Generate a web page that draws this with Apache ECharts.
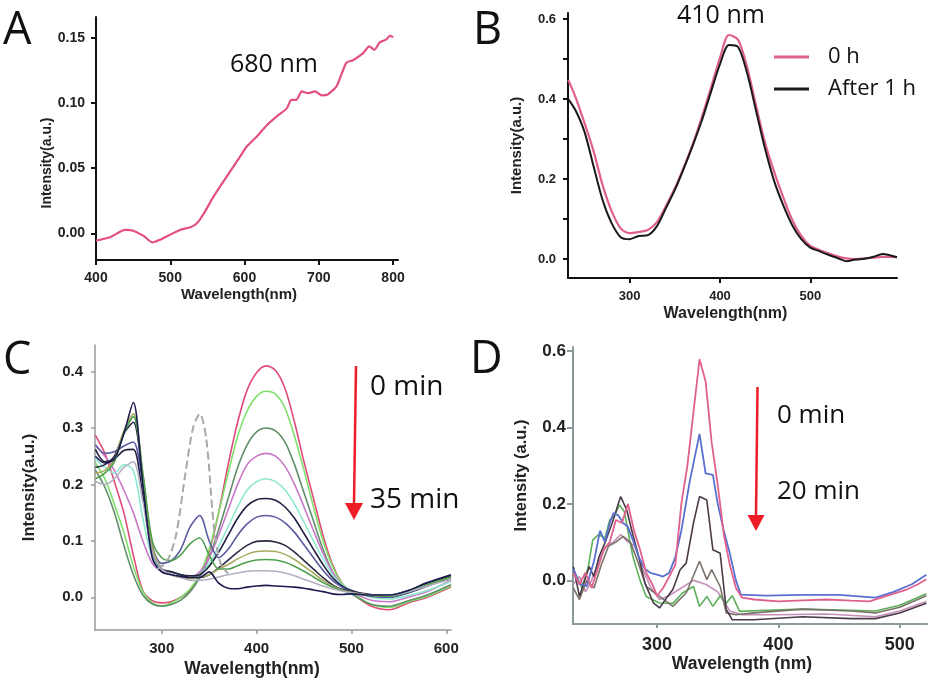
<!DOCTYPE html>
<html>
<head>
<meta charset="utf-8">
<title>Absorption spectra</title>
<script src="https://cdn.jsdelivr.net/npm/echarts@6.0.0/dist/echarts.min.js"></script>
<style>
html, body { margin: 0; padding: 0; background: #fff; }
#chart { width: 934px; height: 686px; }
</style>
</head>
<body>
<div id="chart"></div>
<script>
// panel A
var aWl = [400,419,439,450,464,476,486,500,513,527,536,545,558,576,594,603,616,630,643,657,663,670,677,686,695,704,712,724,737,746,759,768,775,782,791,796,800];
var aAbs = [-0.0056,-0.003,0.0026,0.002,-0.002,-0.007,-0.005,-0.001,0.0026,0.0046,0.0077,0.015,0.028,0.0436,0.059,0.0667,0.074,0.083,0.0897,0.096,0.1026,0.1026,0.109,0.1077,0.109,0.106,0.1067,0.113,0.131,0.133,0.138,0.1436,0.141,0.1467,0.149,0.152,0.1505];
var aXTicks = [400,500,600,700,800];
var aYTicks = [0,0.05,0.10,0.15];

// panel B
var bWl = [232,240,250,260,270,280,290,300,310,320,330,340,350,360,370,380,390,400,410,420,430,440,450,460,470,480,490,500,510,520,530,540,550,560,570,580,588,596];
var b0h = [0.448,0.405,0.340,0.270,0.185,0.120,0.077,0.065,0.068,0.073,0.092,0.132,0.177,0.230,0.288,0.355,0.428,0.503,0.560,0.548,0.480,0.383,0.290,0.218,0.155,0.098,0.058,0.033,0.023,0.015,0.007,0.002,0.000,0.002,0.004,0.006,0.006,0.005];
var b1h = [0.400,0.372,0.318,0.232,0.148,0.090,0.055,0.050,0.058,0.060,0.082,0.127,0.173,0.227,0.285,0.347,0.418,0.487,0.535,0.530,0.465,0.370,0.275,0.195,0.135,0.085,0.050,0.029,0.020,0.011,0.003,-0.005,-0.001,0.001,0.006,0.013,0.010,0.005];
var bXTicks = [300,400,500];
var bYTicks = [0,0.2,0.4,0.6];
var bYTickMarks = [0,0.1,0.2,0.3,0.4,0.5,0.6];

// panel C, one trace per time point
var cWl = [230,240,250,260,270,280,290,300,310,320,330,340,350,360,370,380,390,400,410,420,430,440,450,460,470,480,490,500,520,540,560,580,605];
var cTrace1 = [0.287,0.255,0.205,0.150,0.075,0.012,-0.006,-0.010,-0.008,0.000,0.012,0.036,0.080,0.150,0.235,0.310,0.367,0.398,0.410,0.402,0.370,0.310,0.240,0.175,0.110,0.058,0.025,0.008,-0.015,-0.022,-0.010,0.000,0.018];
var cTrace2 = [0.238,0.210,0.165,0.115,0.055,0.010,-0.010,-0.015,-0.010,0.000,0.015,0.040,0.085,0.150,0.220,0.285,0.330,0.356,0.365,0.360,0.335,0.285,0.225,0.160,0.100,0.055,0.025,0.010,-0.012,-0.018,-0.008,0.002,0.020];
var cTrace3 = [0.225,0.195,0.150,0.092,0.040,0.004,-0.012,-0.016,-0.013,-0.005,0.010,0.035,0.070,0.120,0.175,0.230,0.270,0.293,0.300,0.295,0.275,0.235,0.185,0.135,0.085,0.045,0.020,0.006,-0.012,-0.016,-0.006,0.004,0.022];
var cTrace4 = [0.270,0.250,0.225,0.190,0.150,0.100,0.060,0.045,0.040,0.035,0.035,0.045,0.070,0.110,0.155,0.200,0.235,0.250,0.255,0.250,0.232,0.200,0.160,0.118,0.078,0.045,0.022,0.010,-0.005,-0.008,0.000,0.010,0.030];
var cTrace5 = [0.245,0.230,0.220,0.235,0.225,0.140,0.070,0.050,0.045,0.040,0.035,0.040,0.060,0.090,0.125,0.160,0.190,0.205,0.210,0.205,0.190,0.165,0.133,0.100,0.068,0.040,0.022,0.012,0.000,-0.003,0.003,0.012,0.028];
var cTrace6 = [0.262,0.240,0.245,0.260,0.262,0.180,0.080,0.050,0.045,0.040,0.038,0.040,0.055,0.080,0.110,0.140,0.162,0.173,0.175,0.172,0.160,0.140,0.113,0.085,0.058,0.035,0.020,0.012,0.003,0.000,0.008,0.020,0.035];
var cTrace7 = [0.270,0.255,0.258,0.268,0.275,0.200,0.090,0.060,0.065,0.085,0.125,0.145,0.100,0.070,0.085,0.110,0.130,0.142,0.145,0.142,0.132,0.115,0.093,0.070,0.048,0.030,0.018,0.010,0.002,0.000,0.008,0.020,0.035];
var cTrace8 = [0.230,0.235,0.250,0.290,0.310,0.210,0.090,0.050,0.045,0.040,0.035,0.035,0.040,0.052,0.066,0.080,0.092,0.099,0.100,0.098,0.092,0.080,0.065,0.050,0.035,0.022,0.014,0.010,0.005,0.003,0.012,0.025,0.038];
var cTrace9 = [0.220,0.225,0.245,0.295,0.325,0.220,0.090,0.050,0.040,0.035,0.033,0.035,0.040,0.050,0.058,0.068,0.076,0.081,0.082,0.081,0.076,0.067,0.055,0.043,0.030,0.020,0.013,0.009,0.004,0.002,0.010,0.022,0.035];
var cTrace10 = [0.210,0.220,0.240,0.290,0.320,0.220,0.100,0.070,0.065,0.075,0.095,0.105,0.075,0.050,0.050,0.056,0.062,0.066,0.067,0.066,0.062,0.055,0.046,0.036,0.026,0.018,0.012,0.008,0.003,0.002,0.010,0.022,0.036];
var cTrace11 = [0.205,0.200,0.210,0.230,0.240,0.170,0.080,0.050,0.040,0.035,0.030,0.030,0.032,0.036,0.040,0.043,0.046,0.047,0.047,0.046,0.043,0.038,0.032,0.026,0.020,0.015,0.011,0.008,0.004,0.004,0.010,0.020,0.032];
var cTrace12 = [0.250,0.238,0.245,0.290,0.345,0.200,0.070,0.045,0.040,0.037,0.035,0.035,0.045,0.025,0.016,0.015,0.018,0.020,0.021,0.020,0.019,0.018,0.016,0.013,0.010,0.006,0.005,0.006,0.004,0.004,0.012,0.026,0.040];
var cDashWl = [295,305,315,325,333,340,347,355,362,370];
var cDash = [0.050,0.062,0.110,0.220,0.300,0.325,0.280,0.125,0.060,0.042];
var cXTicks = [300,400,500,600];
var cYTicks = [0,0.1,0.2,0.3,0.4];

// panel D
var dWlPink = [231,236,241,246,251,256,261,266,271,276,281,286,291,296,300,305,310,315,320,325,330,335,340,345,350,355,360,365,370,380,400,420,440,460,475,490,505,515,522];
var dPink = [0.020,-0.010,0.020,-0.020,0.030,0.080,0.100,0.158,0.150,0.200,0.130,0.080,0.020,-0.010,-0.040,-0.020,0.010,0.040,0.200,0.300,0.440,0.578,0.520,0.360,0.250,0.120,0.040,-0.020,-0.045,-0.050,-0.055,-0.052,-0.050,-0.053,-0.055,-0.040,-0.025,-0.010,0.003];
var dWlBlue = [231,236,242,248,253,257,261,264,268,272,276,280,285,290,295,300,305,310,315,320,327,335,340,346,350,355,360,365,369,390,420,450,480,495,510,522];
var dBlue = [0.030,-0.010,-0.015,0.050,0.130,0.100,0.150,0.176,0.170,0.150,0.140,0.106,0.060,0.030,0.019,0.015,0.010,0.020,0.060,0.130,0.260,0.383,0.280,0.276,0.200,0.130,0.070,0.000,-0.037,-0.040,-0.038,-0.038,-0.045,-0.030,-0.010,0.015];
var dWlDark = [231,236,244,248,252,258,263,270,275,280,285,290,297,302,308,313,319,324,330,335,341,346,352,357,362,380,420,460,480,500,522];
var dDark = [0.036,-0.042,0.036,0.010,0.060,0.106,0.150,0.219,0.184,0.120,0.060,-0.007,-0.059,-0.072,-0.045,-0.024,0.028,0.045,0.150,0.219,0.210,0.080,0.071,-0.076,-0.103,-0.103,-0.095,-0.100,-0.100,-0.085,-0.060];
var dWlGrey = [231,236,242,248,254,260,266,272,278,284,291,302,313,324,335,341,345,352,357,365,380,420,460,480,500,522];
var dGrey = [-0.020,-0.050,0.000,-0.020,0.040,0.090,0.100,0.115,0.100,0.050,-0.016,-0.042,-0.068,-0.033,0.050,0.002,0.028,-0.016,-0.085,-0.090,-0.085,-0.075,-0.080,-0.085,-0.070,-0.040];
var dWlGreen = [231,238,243,247,252,257,261,265,269,273,280,286,291,302,313,321,330,335,341,346,352,357,362,368,390,420,460,480,500,522];
var dGreen = [0.030,-0.020,0.030,0.106,0.120,0.110,0.158,0.170,0.197,0.180,0.063,0.000,-0.042,-0.059,-0.060,-0.033,-0.016,-0.068,-0.042,-0.068,-0.040,-0.060,-0.040,-0.081,-0.078,-0.075,-0.078,-0.080,-0.065,-0.035];
var dWlMauve = [231,236,241,246,252,258,264,270,276,282,288,295,302,310,320,330,340,350,360,370,400,440,480,500,522];
var dMauve = [-0.010,0.010,-0.030,0.000,0.050,0.090,0.100,0.120,0.100,0.090,0.030,-0.020,-0.050,-0.040,-0.020,0.000,-0.010,-0.030,-0.080,-0.090,-0.090,-0.088,-0.095,-0.080,-0.055];
var dXTicks = [300,400,500];
var dYTicks = [0,0.2,0.4,0.6];

var LABEL_FONT = "'Liberation Sans', Arial, sans-serif";
var NOTE_FONT = "'Open Sans', 'Noto Sans', sans-serif";

function pairs(xs, ys) {
    return xs.map(function (x, i) { return [x, ys[i]]; });
}

function makeAxis(o) {
    return {
        type: 'value',
        gridIndex: o.grid,
        min: o.min,
        max: o.max,
        name: o.name,
        nameLocation: 'middle',
        nameGap: o.nameGap,
        nameTextStyle: {
            fontFamily: LABEL_FONT, fontWeight: 'bold', fontSize: o.nameSize,
            color: '#222', padding: o.namePad || 0
        },
        axisLine: { show: true, onZero: false, lineStyle: { color: o.color, width: o.lineWidth } },
        axisTick: {
            show: true, length: o.tickLen, customValues: o.tickMarks || o.ticks,
            lineStyle: { color: o.color, width: o.lineWidth }
        },
        axisLabel: {
            customValues: o.ticks, margin: o.margin,
            fontFamily: LABEL_FONT, fontWeight: 'bold', fontSize: o.labelSize, color: '#222',
            formatter: function (v) { return Number(v).toFixed(o.digits); }
        },
        splitLine: { show: false }
    };
}

function trace(name, idx, data, color, width, extra) {
    var s = {
        name: name,
        type: 'line',
        xAxisIndex: idx,
        yAxisIndex: idx,
        data: data,
        showSymbol: false,
        smooth: extra && extra.smooth !== undefined ? extra.smooth : 0.3,
        lineStyle: { color: color, width: width, type: (extra && extra.dash) || 'solid' },
        itemStyle: { color: color },
        silent: true
    };
    return s;
}

function note(text, x, y, size) {
    return {
        type: 'text', x: x, y: y,
        style: { text: text, fontFamily: NOTE_FONT, fontSize: size, fill: '#111', verticalAlign: 'middle' }
    };
}

function arrow(x1, y1, x2, y2, headW, headH) {
    return [
        { type: 'line', shape: { x1: x1, y1: y1, x2: x2, y2: y2 }, style: { stroke: '#ee1c25', lineWidth: 2.5 } },
        {
            type: 'polygon',
            shape: { points: [[x2 - headW / 2, y2], [x2 + headW / 2, y2], [x2, y2 + headH]] },
            style: { fill: '#ee1c25' }
        }
    ];
}

var chart = echarts.init(document.getElementById('chart'));

var cColors = ['#e04a78', '#7ee06a', '#5f8f6a', '#c878c8', '#8fe8d0', '#202040',
    '#5a5aa0', '#2a2a44', '#a8a860', '#50a050', '#b0b0c0', '#1a1a50'];
var cTraces = [cTrace1, cTrace2, cTrace3, cTrace4, cTrace5, cTrace6, cTrace7, cTrace8, cTrace9, cTrace10, cTrace11, cTrace12];

var series = [
    trace('A', 0, pairs(aWl, aAbs), '#e4507c', 2.2, { smooth: 0.2 }),
    trace('0 h', 1, pairs(bWl, b0h), '#e0608a', 2.2),
    trace('After 1 h', 1, pairs(bWl, b1h), '#1a1a1a', 2)
];
cTraces.forEach(function (t, i) {
    series.push(trace('C' + (i + 1), 2, pairs(cWl, t), cColors[i], 1.6));
});
series.push(trace('C dashed', 2, pairs(cDashWl, cDash), '#a8a8a8', 2, { dash: 'dashed' }));
series.push(trace('D1', 3, pairs(dWlMauve, dMauve), '#c58fb8', 1.6, { smooth: false }));
series.push(trace('D2', 3, pairs(dWlGreen, dGreen), '#5cb05c', 1.6, { smooth: false }));
series.push(trace('D3', 3, pairs(dWlGrey, dGrey), '#7a7268', 1.6, { smooth: false }));
series.push(trace('D4', 3, pairs(dWlDark, dDark), '#4a3a48', 1.6, { smooth: false }));
series.push(trace('D5', 3, pairs(dWlBlue, dBlue), '#5b6fd0', 1.8, { smooth: false }));
series.push(trace('D6', 3, pairs(dWlPink, dPink), '#e0608e', 1.8, { smooth: false }));

var graphics = [
    note('A', 3, 31, 45), note('B', 473, 31, 45), note('C', 3, 361, 45), note('D', 470, 360, 45),
    note('680 nm', 230, 65, 25),
    note('410 nm', 677, 16, 25),
    note('0 min', 370, 387, 28), note('35 min', 370, 500, 28),
    note('0 min', 777, 416, 26), note('20 min', 777, 492, 26)
].concat(arrow(356, 366, 354, 503, 18, 17), arrow(757.5, 387, 756, 515, 17, 16));

var option = {
    animation: false,
    backgroundColor: '#fff',
    grid: [
        { left: 96, top: 17, width: 302, height: 243 },
        { left: 568, top: 13, width: 329, height: 265 },
        { left: 95, top: 345, width: 356, height: 285 },
        { left: 573, top: 347, width: 354, height: 277 }
    ],
    xAxis: [
        makeAxis({ grid: 0, min: 400, max: 806.7, ticks: aXTicks, digits: 0, name: 'Wavelength(nm)', nameGap: 27, nameSize: 15, namePad: [0, 16, 0, 0], color: '#111', lineWidth: 2, tickLen: 5, margin: 11, labelSize: 14 }),
        makeAxis({ grid: 1, min: 231.7, max: 596, ticks: bXTicks, digits: 0, name: 'Wavelength(nm)', nameGap: 28, nameSize: 16, namePad: [0, 14, 0, 0], color: '#111', lineWidth: 2, tickLen: 5, margin: 12, labelSize: 13 }),
        makeAxis({ grid: 2, min: 229.6, max: 605, ticks: cXTicks, digits: 0, name: 'Wavelength(nm)', nameGap: 30, nameSize: 17.5, namePad: [0, 42, 0, 0], color: '#999', lineWidth: 1.5, tickLen: 4, margin: 11, labelSize: 15 }),
        makeAxis({ grid: 3, min: 230.7, max: 522.5, ticks: dXTicks, digits: 0, name: 'Wavelength (nm)', nameGap: 31, nameSize: 17.5, namePad: [0, 16, 0, 0], color: '#8a9a9a', lineWidth: 2, tickLen: 4, margin: 12, labelSize: 18 })
    ],
    yAxis: [
        makeAxis({ grid: 0, min: -0.0205, max: 0.1662, ticks: aYTicks, digits: 2, name: 'Intensity(a.u.)', nameGap: 40, nameSize: 14, namePad: [0, 49, 0, 0], color: '#111', lineWidth: 2, tickLen: 5, margin: 11, labelSize: 14 }),
        makeAxis({ grid: 1, min: -0.047, max: 0.615, ticks: bYTicks, tickMarks: bYTickMarks, digits: 1, name: 'Intensity(a.u.)', nameGap: 44, nameSize: 15, color: '#111', lineWidth: 2, tickLen: 5, margin: 12, labelSize: 13 }),
        makeAxis({ grid: 2, min: -0.058, max: 0.447, ticks: cYTicks, digits: 1, name: 'Intensity(a.u.)', nameGap: 57, nameSize: 16.5, color: '#999', lineWidth: 1.5, tickLen: 4, margin: 12, labelSize: 15 }),
        makeAxis({ grid: 3, min: -0.114, max: 0.61, ticks: dYTicks, digits: 1, name: 'Intensity (a.u.)', nameGap: 43, nameSize: 16.5, namePad: [0, 0, 0, 20], color: '#8a9a9a', lineWidth: 2, tickLen: 6, margin: 7, labelSize: 17 })
    ],
    legend: {
        data: ['0 h', 'After 1 h'],
        left: 769,
        top: 41,
        orient: 'vertical',
        itemWidth: 35,
        itemHeight: 3,
        itemGap: 10,
        icon: 'rect',
        selectedMode: false,
        textStyle: { fontFamily: NOTE_FONT, fontSize: 22, color: '#111', padding: [0, 0, 0, 14] }
    },
    graphic: graphics,
    series: series
};

chart.setOption(option);
</script>
</body>
</html>
